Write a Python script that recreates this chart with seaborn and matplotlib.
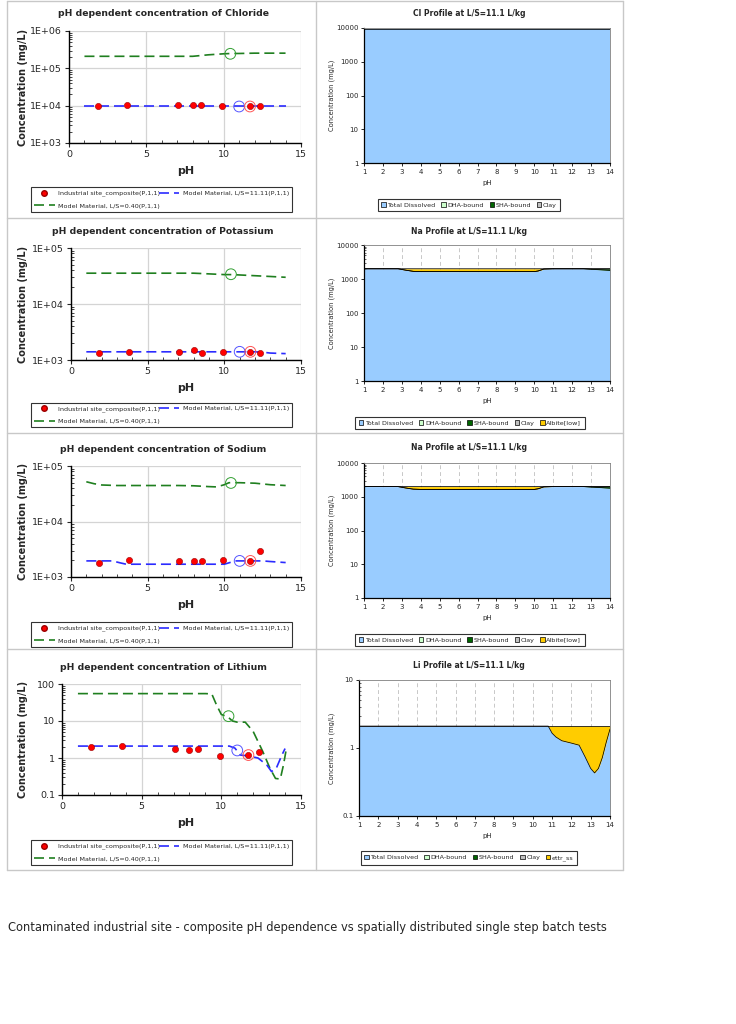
import numpy as np
import matplotlib
matplotlib.use("Agg")
import matplotlib.pyplot as plt
import seaborn as sns
from matplotlib.lines import Line2D
from matplotlib.patches import Patch
from matplotlib.ticker import FixedLocator, FuncFormatter, LogLocator, NullFormatter

# ---- data ----
# measured composite samples (same pH for every element)
site_ph = [1.85, 3.78, 7.07, 8.0, 8.54, 9.9, 11.7, 12.35]
cl_site = [9500, 10500, 10500, 10500, 10500, 10000, 9500, 9500]
k_site = [1330, 1400, 1370, 1510, 1330, 1370, 1390, 1350]
na_site = [1820, 2000, 1950, 1950, 1950, 2060, 1950, 3000]
li_site = [2.0, 2.05, 1.8, 1.6, 1.77, 1.12, 1.2, 1.43]

# model curves, L/S = 11.11 (blue) and L/S = 0.40 (green)
cl_blue_ph = [1, 3, 5, 7, 9, 11, 13, 14]
cl_blue = [9500, 9500, 9500, 9500, 9500, 9500, 9500, 9500]
cl_green_ph = [1, 3, 5, 7, 8, 9, 10, 10.5, 11, 12, 13, 14]
cl_green = [2.1e5, 2.1e5, 2.1e5, 2.1e5, 2.1e5, 2.3e5, 2.45e5, 2.5e5, 2.5e5, 2.55e5, 2.55e5, 2.55e5]

k_blue_ph = [1, 3, 5, 7, 9, 11, 12, 12.5, 13, 14]
k_blue = [1400, 1400, 1400, 1400, 1400, 1400, 1400, 1380, 1330, 1300]
k_green_ph = [1, 3, 5, 7, 8, 9, 10, 10.5, 11, 12, 13, 14]
k_green = [3.55e4, 3.55e4, 3.55e4, 3.55e4, 3.55e4, 3.45e4, 3.35e4, 3.35e4, 3.3e4, 3.2e4, 3.1e4, 3.0e4]

na_blue_ph = [1, 2, 2.7, 3.2, 3.6, 5, 7, 9, 10, 10.3, 10.7, 12, 12.5, 13, 14]
na_blue = [1950, 1950, 1950, 1800, 1700, 1700, 1700, 1700, 1700, 1800, 1950, 1950, 1950, 1900, 1820]
na_green_ph = [1, 1.5, 2, 3, 5, 7, 8, 9, 9.5, 10, 10.3, 11, 12, 13, 14]
na_green = [5.2e4, 4.8e4, 4.55e4, 4.45e4, 4.45e4, 4.45e4, 4.4e4, 4.25e4, 4.2e4, 4.6e4, 5.0e4, 5.0e4, 4.9e4, 4.6e4, 4.45e4]

li_blue_ph = [1, 3, 5, 7, 9, 10.5, 10.85, 11.2, 11.7, 12.3, 12.85, 13.15, 13.45, 13.8, 14.0]
li_blue = [2.1, 2.1, 2.1, 2.1, 2.1, 2.1, 1.85, 1.2, 1.14, 1.0, 0.65, 0.43, 0.53, 1.2, 1.8]
li_green_ph = [1, 3, 5, 7, 9, 9.4, 9.7, 10.0, 10.4, 10.7, 11.0, 11.5, 12.0, 12.6, 13.05, 13.4, 13.7, 13.9, 14.05]
li_green = [55, 55, 55, 55, 55, 54, 27, 15, 13, 10, 9.3, 9.3, 5.2, 1.5, 0.53, 0.28, 0.27, 0.65, 1.5]

# highlighted (open circle) points: green, blue, red
cl_marks = [(10.43, 2.45e5), (11.0, 9500), (11.7, 9500)]
k_marks = [(10.43, 3.4e4), (11.0, 1400), (11.7, 1400)]
na_marks = [(10.43, 4.95e4), (11.0, 1950), (11.7, 1950)]
li_marks = [(10.45, 13.5), (11.0, 1.6), (11.7, 1.2)]

# speciation profiles at L/S = 11.1 L/kg
prof_cl_ph = [1, 2, 3, 4, 5, 6, 7, 8, 9, 10, 11, 12, 13, 14]
prof_cl_diss = [9600, 9600, 9600, 9600, 9600, 9600, 9600, 9600, 9600, 9600, 9600, 9600, 9600, 9600]

prof_na_ph = [1, 2, 2.8, 3.2, 3.6, 4, 5, 6, 7, 8, 9, 10, 10.2, 10.5, 11, 12, 12.6, 13, 13.5, 14]
prof_na_diss = [2000, 2000, 2000, 1820, 1680, 1650, 1650, 1650, 1650, 1650, 1650, 1650, 1720, 1960,
                2000, 2000, 2000, 1930, 1870, 1800]
prof_na_sha = [0, 0, 0, 0, 0, 0, 0, 0, 0, 0, 0, 0, 0, 0, 0, 0, 0, 60, 120, 190]
prof_na_albite = [0, 0, 0, 180, 320, 350, 350, 350, 350, 350, 350, 350, 280, 40, 0, 0, 0, 0, 0, 0]

prof_li_ph = [1, 2, 3, 4, 5, 6, 7, 8, 9, 10, 10.8, 11.0, 11.2, 11.5, 12.0, 12.4, 12.7, 13.0, 13.2,
              13.4, 13.6, 13.8, 14.0]
prof_li_diss = [2.1, 2.1, 2.1, 2.1, 2.1, 2.1, 2.1, 2.1, 2.1, 2.1, 2.1, 1.65, 1.45, 1.28, 1.18, 1.1,
                0.75, 0.5, 0.43, 0.5, 0.72, 1.2, 1.9]
prof_li_ettr = [0, 0, 0, 0, 0, 0, 0, 0, 0, 0, 0, 0.45, 0.65, 0.82, 0.92, 1.0, 1.35, 1.6, 1.67,
                1.6, 1.38, 0.9, 0.2]

site_label = "Industrial site_composite(P,1,1)"
blue_label = "Model Material, L/S=11.11(P,1,1)"
green_label = "Model Material, L/S=0.40(P,1,1)"
caption = "Contaminated industrial site - composite pH dependence vs spatially distributed single step batch tests"

# ---- styling ----
sns.set_style("white")
plt.rcParams["font.family"] = ["DejaVu Sans"]

RED, BLUE, GREEN = "#ff0000", "#2b2bff", "#1f7f1f"
C_DISS, C_DHA, C_SHA, C_CLAY, C_GOLD = "#99ccff", "#ccffcc", "#006600", "#c0c0c0", "#ffcc00"
DASH = (0, (6, 3))

W, H = 736, 1024
fig = plt.figure(figsize=(W / 100, H / 100), dpi=100)


def box(x0, y0, x1, y1):
    return [x0 / W, 1 - y1 / H, (x1 - x0) / W, (y1 - y0) / H]


def fy(y):
    return 1 - y / H


# light gray cell borders
for x in (7, 316, 623):
    fig.add_artist(Line2D([x / W, x / W], [fy(1), fy(870)], color="#c8c8c8", lw=1))
for y in (1, 218, 433, 649, 870):
    fig.add_artist(Line2D([7 / W, 623 / W], [fy(y), fy(y)], color="#c8c8c8", lw=1))


def left_panel(rect, ylim, site_vals, blue_ph, blue_vals, green_ph, green_vals, marks, title,
               title_y, leg_rect, efmt=True):
    ax = fig.add_axes(box(*rect))
    ax.set_yscale("log")
    sns.lineplot(x=green_ph, y=green_vals, ax=ax, color=GREEN, lw=1.2, linestyle=DASH, sort=False)
    sns.lineplot(x=blue_ph, y=blue_vals, ax=ax, color=BLUE, lw=1.2, linestyle=DASH, sort=False)
    sns.scatterplot(x=site_ph, y=site_vals, ax=ax, color=RED, s=20, edgecolor="#990000",
                    linewidth=0.4, zorder=4)
    for (px, py), c in zip(marks, ["#33a033", "#5555ff", "#ff5555"]):
        ax.scatter([px], [py], s=60, facecolors="none", edgecolors=c, linewidths=0.7, zorder=5)
    ax.set_xlim(0, 15)
    ax.set_ylim(*ylim)
    ax.set_xticks([0, 5, 10, 15])
    ax.xaxis.set_minor_locator(FixedLocator([1, 2, 3, 4, 6, 7, 8, 9, 11, 12, 13, 14]))
    ax.yaxis.set_major_locator(LogLocator(base=10))
    ax.yaxis.set_minor_locator(LogLocator(base=10, subs=np.arange(2, 10)))
    ax.yaxis.set_minor_formatter(NullFormatter())
    if efmt:
        ax.yaxis.set_major_formatter(FuncFormatter(lambda v, _: f"{v:.0E}"))
    else:
        ax.yaxis.set_major_formatter(FuncFormatter(lambda v, _: f"{v:g}"))
    ax.grid(True, which="major", color="#d4d4d4", lw=0.9)
    ax.set_axisbelow(True)
    ax.tick_params(which="major", direction="out", length=3, width=0.8, labelsize=6.8, pad=2,
                   left=True, bottom=True)
    ax.tick_params(which="minor", direction="in", length=2, width=0.6, left=True, bottom=True)
    for s in ("top", "right"):
        ax.spines[s].set_visible(False)
    for s in ("left", "bottom"):
        ax.spines[s].set_color("black")
        ax.spines[s].set_linewidth(1.0)
    ax.set_xlabel("")
    ax.set_ylabel("")
    x0, y0, x1, y1 = rect
    fig.text(163 / W, fy(title_y), title, ha="center", va="center", fontsize=6.7, fontweight="bold")
    fig.text(186 / W, fy(y1 + 28), "pH", ha="center", va="center", fontsize=8, fontweight="bold")
    fig.text(23 / W, fy((y0 + y1) / 2), "Concentration (mg/L)", rotation=90, ha="center",
             va="center", fontsize=7, fontweight="bold")
    handles = [
        Line2D([], [], marker="o", color="none", markerfacecolor=RED, markeredgecolor="#990000",
               markersize=4),
        Line2D([], [], color=GREEN, lw=1.2, linestyle=DASH),
        Line2D([], [], color=BLUE, lw=1.2, linestyle=DASH),
    ]
    lx0, ly0, lx1, ly1 = leg_rect
    leg = ax.legend(handles, [site_label, green_label, blue_label], loc="center",
                    bbox_to_anchor=box(lx0, ly0, lx1, ly1), bbox_transform=fig.transFigure,
                    mode="expand", ncol=2, fontsize=4.6, frameon=True, fancybox=False,
                    edgecolor="black", borderpad=0.45, labelspacing=1.05, handlelength=3.2,
                    handletextpad=0.5, columnspacing=0.8)
    leg.get_frame().set_linewidth(0.8)
    return ax


def right_panel(rect, ph, layers, ylim, title, title_y, leg_items, leg_center):
    ax = fig.add_axes(box(*rect))
    ax.set_yscale("log")
    vals = np.array([v for v, _ in layers], dtype=float)
    cum = np.cumsum(vals, axis=0)
    lower = np.full(len(ph), ylim[0] * 0.5)
    for i, (_, color) in enumerate(layers):
        upper = cum[i]
        ax.fill_between(ph, lower, upper, color=color, lw=0, zorder=1)
        lower = upper
    for i in range(len(layers)):
        sns.lineplot(x=ph, y=cum[i], ax=ax, color="black", lw=0.55, sort=False, zorder=2)
    ax.set_xlim(1, 14)
    ax.set_ylim(*ylim)
    ax.set_xticks(range(1, 15))
    ax.xaxis.set_minor_locator(FixedLocator(np.arange(1.5, 14, 1.0)))
    ax.yaxis.set_major_locator(LogLocator(base=10))
    ax.yaxis.set_minor_locator(LogLocator(base=10, subs=np.arange(2, 10)))
    ax.yaxis.set_minor_formatter(NullFormatter())
    ax.yaxis.set_major_formatter(FuncFormatter(lambda v, _: f"{v:g}"))
    ax.grid(True, axis="x", which="major", color="#c8c8c8", lw=0.7, linestyle=(0, (4, 3)))
    ax.set_axisbelow(True)
    ax.tick_params(which="major", direction="out", length=2.5, width=0.7, labelsize=5, pad=1.5,
                   left=True, bottom=True)
    ax.tick_params(which="minor", direction="in", length=1.5, width=0.5, left=True, bottom=True)
    for s in ("left", "bottom"):
        ax.spines[s].set_color("black")
        ax.spines[s].set_linewidth(0.9)
    for s in ("top", "right"):
        ax.spines[s].set_color("#808080")
        ax.spines[s].set_linewidth(0.6)
    ax.set_xlabel("")
    ax.set_ylabel("")
    x0, y0, x1, y1 = rect
    fig.text(469 / W, fy(title_y), title, ha="center", va="center", fontsize=5.5,
             fontweight="bold")
    fig.text(487 / W, fy(y1 + 20), "pH", ha="center", va="center", fontsize=5)
    fig.text(332 / W, fy((y0 + y1) / 2), "Concentration (mg/L)", rotation=90, ha="center",
             va="center", fontsize=4.8)
    handles = [Patch(facecolor=c, edgecolor="black", lw=0.5) for _, c in leg_items]
    leg = ax.legend(handles, [l for l, _ in leg_items], loc="center",
                    bbox_to_anchor=(leg_center[0] / W, fy(leg_center[1])),
                    bbox_transform=fig.transFigure, ncol=len(leg_items), fontsize=4.6,
                    frameon=True, fancybox=False, edgecolor="black", borderpad=0.55,
                    handlelength=0.7, handleheight=0.7, handletextpad=0.25, columnspacing=0.9)
    leg.get_frame().set_linewidth(0.8)
    return ax


# ---- left column: pH dependent concentrations ----
left_panel((69, 31, 301, 143), (1e3, 1e6), cl_site, cl_blue_ph, cl_blue, cl_green_ph, cl_green,
           cl_marks, "pH dependent concentration of Chloride", 14, (28, 187, 295, 212))
left_panel((71, 248, 301, 360), (1e3, 1e5), k_site, k_blue_ph, k_blue, k_green_ph, k_green,
           k_marks, "pH dependent concentration of Potassium", 231, (28, 402, 295, 428))
left_panel((71, 466, 301, 577), (1e3, 1e5), na_site, na_blue_ph, na_blue, na_green_ph, na_green,
           na_marks, "pH dependent concentration of Sodium", 449, (28, 622, 295, 647))
left_panel((62, 684, 301, 795), (0.1, 100), li_site, li_blue_ph, li_blue, li_green_ph, li_green,
           li_marks, "pH dependent concentration of Lithium", 667, (28, 840, 295, 865),
           efmt=False)

# ---- right column: speciation profiles ----
base_items = [("Total Dissolved", C_DISS), ("DHA-bound", C_DHA), ("SHA-bound", C_SHA),
              ("Clay", C_CLAY)]
right_panel((364, 28, 610, 163), prof_cl_ph, [(prof_cl_diss, C_DISS)], (1, 10000),
            "Cl Profile at L/S=11.1 L/kg", 14, base_items, (469, 205))
right_panel((364, 245, 610, 381), prof_na_ph,
            [(prof_na_diss, C_DISS), (prof_na_sha, C_SHA), (prof_na_albite, C_GOLD)], (1, 10000),
            "Na Profile at L/S=11.1 L/kg", 231, base_items + [("Albite[low]", C_GOLD)], (470, 423))
right_panel((364, 463, 610, 598), prof_na_ph,
            [(prof_na_diss, C_DISS), (prof_na_sha, C_SHA), (prof_na_albite, C_GOLD)], (1, 10000),
            "Na Profile at L/S=11.1 L/kg", 448, base_items + [("Albite[low]", C_GOLD)], (470, 640))
right_panel((359, 680, 610, 816), prof_li_ph, [(prof_li_diss, C_DISS), (prof_li_ettr, C_GOLD)],
            (0.1, 10), "Li Profile at L/S=11.1 L/kg", 665, base_items + [("ettr_ss", C_GOLD)],
            (469, 858))

fig.text(8 / W, fy(928), caption, ha="left", va="center", fontsize=8.3)

fig.savefig("out.png", dpi=100)
